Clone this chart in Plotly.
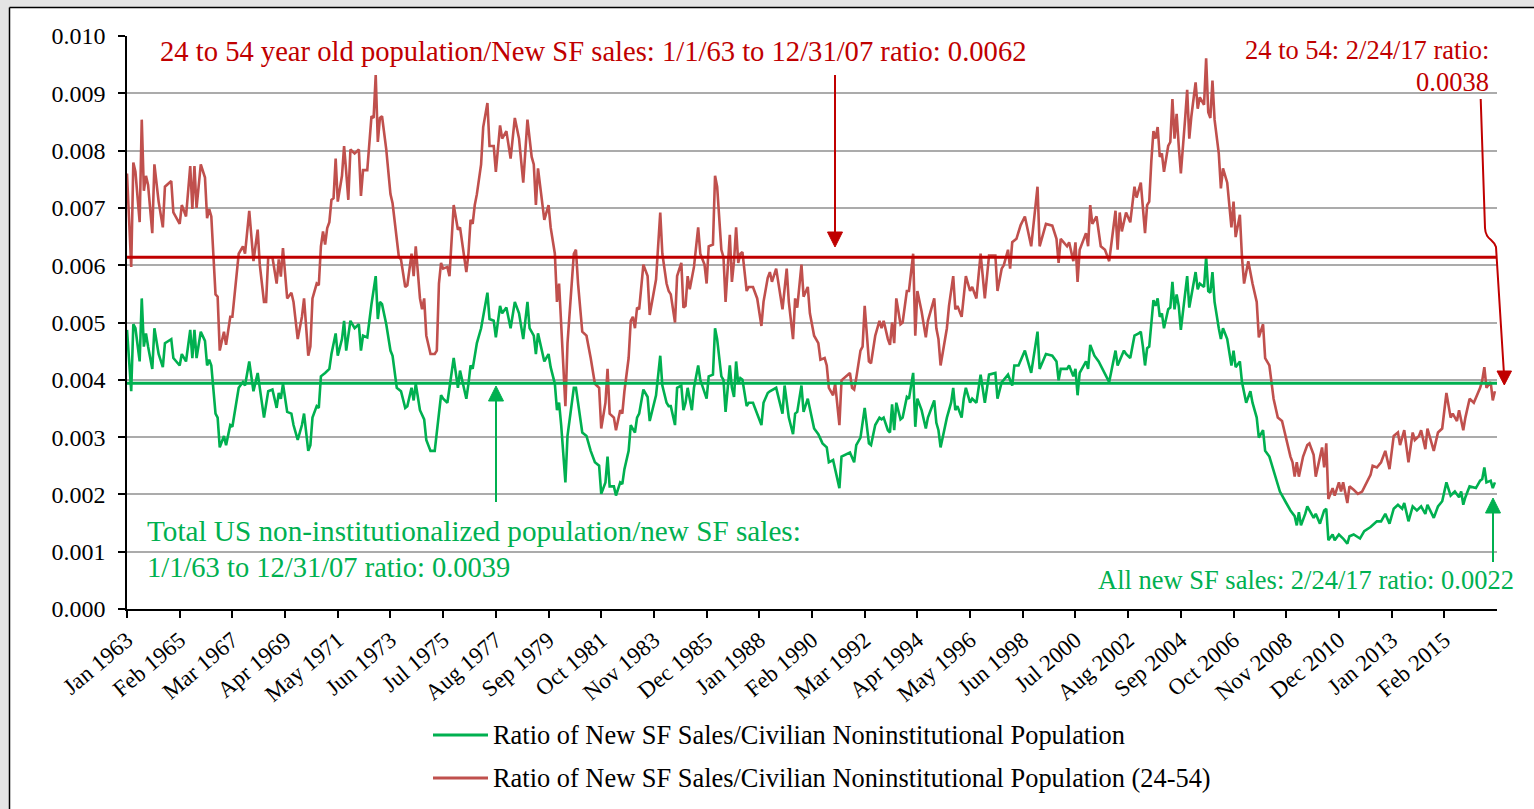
import plotly.graph_objects as go
from datetime import datetime

# ---------------- data (month index 0 = Jan 1963; values in thousandths) ----------------
red_m = [0,2,3,4,6,7,8,9,10,12,13,15,17,18,21,22,25,26,28,30,31,32,33,35,37,38,39,40,42,43,44,46,47,49,50,53,55,56,58,60,62,63,65,66,67,69,71,72,73,74,76,78,79,81,83,84,86,87,88,90,91,92,93,94,95,96,97,98,99,100,102,103,104,105,106,108,110,111,112,114,116,117,118,119,120,121,123,125,126,129,130,132,133,135,136,137,139,140,141,142,144,146,147,148,149,150,152,153,155,157,158,160,161,162,163,164,165,166,168,169,171,172,174,175,177,178,180,182,184,186,188,190,192,193,194,195,198,200,201,203,204,205,206,208,209,212,213,214,216,218,220,222,224,225,227,228,229,231,232,234,235,236,238,239,240,241,242,243,245,247,248,250,251,253,254,256,257,258,260,261,263,264,265,266,267,269,270,271,272,274,275,276,278,279,280,282,283,284,286,287,288,289,290,291,292,294,295,297,299,301,302,304,305,306,308,311,313,314,316,317,318,320,321,323,324,326,328,329,331,332,333,335,336,338,339,341,343,344,345,346,348,349,350,352,353,355,357,358,359,361,362,363,364,365,367,368,370,371,373,374,375,377,379,380,383,384,385,386,388,389,390,392,393,394,396,397,398,400,401,403,405,407,409,412,413,415,416,418,419,420,422,424,426,429,430,432,433,436,439,441,442,443,446,447,449,450,451,452,455,456,457,458,460,462,464,466,469,470,471,472,474,476,478,479,481,482,483,484,485,486,487,488,489,490,491,492,494,495,496,497,498,499,500,502,503,504,505,507,508,509,511,512,513,514,515,516,518,519,520,522,524,525,526,528,529,530,532,534,536,537,539,540,542,544,546,548,550,552,553,554,555,556,558,560,561,563,564,567,568,569,570,572,573,575,576,577,579,580,582,584,586,588,590,591,593,595,597,599,601,603,604,606,608,610,611,613,614,616,617,620,622,624,626,628,629,631,632,634,635,637,639,642,643,644,645,647,648,649]
red_v = [7.60,5.97,7.79,7.63,6.75,8.54,7.30,7.56,7.40,6.56,7.76,7.11,6.66,7.37,7.47,6.92,6.72,7.05,6.85,7.73,6.98,7.73,7.00,7.76,7.53,6.82,6.98,6.85,5.49,5.45,4.51,4.84,4.61,5.10,5.10,6.20,6.33,6.20,6.95,6.07,6.62,6.01,5.36,5.36,6.14,6.14,5.68,6.10,5.80,6.30,5.42,5.52,5.36,4.71,5.10,5.42,4.42,4.58,5.42,5.68,5.65,6.33,6.59,6.36,6.65,6.75,7.14,7.17,7.86,7.11,7.56,8.08,7.63,7.14,8.02,7.95,8.02,7.21,7.66,7.66,8.60,8.57,9.32,8.15,8.57,8.60,8.02,7.24,7.08,6.14,6.10,5.62,5.65,6.20,5.81,6.33,5.42,5.23,5.42,4.77,4.45,4.45,4.51,5.68,6.04,5.94,5.97,5.81,7.05,6.62,6.66,6.07,5.88,6.20,6.79,6.72,7.05,7.24,7.76,8.41,8.83,8.08,8.08,7.63,8.44,8.21,8.34,7.86,8.57,8.21,7.44,8.54,7.89,7.76,7.05,7.69,6.79,7.05,6.66,6.20,5.36,5.68,4.90,3.54,4.64,6.20,6.27,5.68,4.84,4.77,4.38,3.93,3.86,3.15,3.60,4.19,3.41,3.34,3.12,3.47,3.41,3.80,4.38,5.03,5.10,4.90,5.26,5.23,6.01,5.81,5.13,5.55,5.75,6.92,6.20,5.68,5.55,5.49,5.00,5.81,6.04,5.26,5.29,5.81,5.58,5.97,6.30,6.66,6.20,6.01,5.68,6.33,6.36,7.56,7.37,6.27,6.14,5.36,6.53,5.71,6.07,6.66,6.04,6.20,6.23,5.55,5.62,5.62,5.42,4.94,5.36,5.78,5.88,5.71,5.94,5.23,5.94,5.36,4.71,5.42,5.26,6.01,5.45,5.62,5.16,4.77,4.64,4.35,4.38,4.25,3.86,3.73,3.93,3.21,3.99,4.06,4.12,3.86,3.83,4.03,4.51,4.58,5.29,4.32,4.29,4.77,5.03,4.90,5.03,4.71,4.61,5.00,4.64,5.42,4.97,5.00,5.55,5.55,6.20,4.77,5.55,5.19,4.74,5.03,5.42,4.90,4.71,4.25,4.71,4.90,5.29,5.81,5.23,5.29,5.10,5.42,5.81,5.55,5.62,5.42,6.20,5.42,6.17,6.17,5.55,5.94,6.00,6.27,5.94,6.40,6.46,6.70,6.85,6.33,6.66,7.37,6.33,6.72,6.69,6.46,6.04,6.46,6.33,6.40,6.07,6.40,5.71,6.27,6.56,6.33,7.05,6.72,6.85,6.33,6.27,6.07,6.95,6.27,6.92,6.59,6.92,6.75,7.37,7.18,7.44,6.98,6.56,7.05,7.11,7.82,8.34,8.21,8.41,7.89,7.95,7.63,8.08,8.15,8.90,8.21,8.64,8.08,7.60,8.54,9.06,8.21,8.60,9.19,8.73,8.93,8.80,9.61,8.67,8.57,9.22,8.54,7.95,7.34,7.69,7.44,6.66,7.11,6.49,6.88,6.14,5.68,6.07,5.68,5.36,4.74,4.97,4.38,4.25,3.67,3.34,3.28,2.95,2.66,2.56,2.31,2.56,2.31,2.66,2.86,2.89,2.69,2.31,2.82,2.47,2.89,1.92,2.11,1.98,2.21,2.05,2.21,1.85,2.14,2.08,2.01,2.05,2.21,2.34,2.50,2.47,2.56,2.76,2.44,3.02,3.08,2.86,3.12,2.56,3.08,2.95,3.02,3.12,2.79,3.15,2.76,3.08,3.15,3.77,3.34,3.41,3.28,3.47,3.12,3.34,3.67,3.60,3.86,3.99,4.22,3.86,3.96,3.64,3.80]

green_m = [0,2,3,4,6,7,8,9,10,12,13,15,17,18,21,22,25,26,28,30,31,32,33,35,37,38,39,40,42,43,44,46,47,49,50,53,55,56,58,60,62,63,65,67,69,71,72,73,74,76,78,79,81,83,84,86,87,88,90,91,92,94,96,97,99,100,102,103,104,106,108,110,111,112,114,116,118,119,120,121,123,125,126,128,130,132,133,135,136,137,139,141,142,144,146,148,149,150,152,155,157,158,160,161,162,163,164,165,166,168,170,171,172,174,175,177,178,180,182,184,186,188,190,191,193,194,195,198,200,201,203,204,205,206,208,209,212,213,214,216,218,220,222,224,225,227,228,229,231,232,234,235,236,238,239,240,241,242,243,245,247,248,250,251,253,254,256,257,258,260,261,263,264,265,266,268,269,271,272,275,276,278,279,280,282,283,284,286,287,288,289,290,291,292,294,295,297,299,301,302,304,305,308,311,312,314,316,317,318,320,321,323,325,326,328,330,332,333,335,336,338,339,341,343,345,346,348,350,352,353,355,357,358,359,361,362,363,364,365,367,368,370,371,373,374,375,377,379,380,383,384,385,386,388,389,391,392,393,394,396,397,398,400,401,403,405,407,409,412,413,415,416,418,420,421,423,426,429,430,432,433,436,439,441,442,443,446,447,449,450,451,452,455,456,457,459,461,464,466,469,470,473,474,476,478,480,481,482,483,484,485,487,488,489,490,491,492,494,495,496,497,498,499,500,502,503,504,505,507,508,509,511,512,513,514,515,516,518,519,520,522,524,525,526,528,529,531,533,534,536,537,539,540,542,545,547,550,552,554,555,556,557,559,560,563,564,566,567,568,569,570,572,573,575,577,579,580,582,585,587,590,593,595,597,599,601,603,605,606,608,610,612,614,616,617,620,622,624,626,628,630,632,633,634,635,637,640,642,643,644,645,647,648,649]
green_v = [4.87,3.80,4.97,4.90,4.32,5.42,4.58,4.81,4.58,4.19,4.90,4.45,4.22,4.64,4.71,4.38,4.25,4.45,4.32,4.87,4.38,4.87,4.38,4.84,4.68,4.25,4.35,4.25,3.41,3.34,2.82,3.02,2.86,3.21,3.18,3.86,3.96,3.90,4.32,3.80,4.12,3.83,3.34,3.80,3.83,3.51,3.77,3.67,3.93,3.44,3.41,3.21,2.95,3.21,3.41,2.76,2.86,3.34,3.54,3.51,4.06,4.12,4.19,4.45,4.81,4.42,4.71,5.03,4.51,5.03,4.90,4.97,4.51,4.77,4.74,5.32,5.81,5.06,5.36,5.32,4.97,4.51,4.42,3.86,3.80,3.51,3.54,3.86,3.64,3.93,3.47,3.31,2.95,2.76,2.76,3.41,3.73,3.67,3.60,4.38,3.86,4.16,3.86,3.67,3.93,4.25,4.19,4.45,4.64,4.90,5.29,5.52,5.06,5.03,4.74,5.29,5.16,5.26,4.90,5.36,5.16,4.71,5.36,4.90,4.77,4.45,4.81,4.32,4.45,4.22,3.93,3.47,3.60,3.21,2.21,3.02,3.86,3.86,3.60,3.08,3.02,2.76,2.56,2.50,2.01,2.21,2.66,2.14,2.14,1.98,2.21,2.18,2.44,2.76,3.21,3.15,3.08,3.34,3.41,3.83,3.70,3.28,3.60,3.73,4.42,3.90,3.60,3.54,3.54,3.21,3.86,3.90,3.47,3.60,3.86,3.47,3.86,4.25,4.00,3.67,4.06,4.09,4.90,4.71,4.06,4.00,3.44,4.25,3.86,3.70,4.32,3.93,4.03,4.00,3.54,3.60,3.60,3.41,3.21,3.60,3.77,3.80,3.86,3.41,3.90,3.34,3.05,3.41,3.44,3.90,3.44,3.67,3.34,3.15,3.05,2.89,2.82,2.56,2.60,2.44,2.11,2.66,2.69,2.73,2.56,2.86,2.99,3.51,2.89,2.86,3.21,3.34,3.31,3.34,3.12,3.08,3.57,3.12,3.60,3.31,3.34,3.70,3.67,4.12,3.18,3.67,3.47,3.15,3.34,3.64,3.25,3.12,2.82,3.15,3.34,3.60,3.86,3.47,3.54,3.34,3.67,3.86,3.60,3.67,3.60,4.09,3.60,4.09,4.12,3.67,3.96,4.00,4.09,3.90,4.25,4.25,4.51,4.12,4.38,4.84,4.19,4.45,4.42,4.32,3.99,4.19,4.19,4.25,4.06,4.19,3.73,4.12,4.32,4.19,4.61,4.42,4.32,4.12,3.96,4.51,4.25,4.51,4.45,4.38,4.77,4.81,4.84,4.58,4.25,4.55,4.58,5.39,5.29,5.42,5.10,5.16,4.90,5.23,5.26,5.71,5.23,5.49,5.29,4.87,5.49,5.81,5.26,5.49,5.88,5.58,5.68,5.62,6.14,5.55,5.52,5.88,5.36,4.90,4.71,4.90,4.71,4.25,4.51,4.22,4.32,3.96,3.60,3.80,3.60,3.34,2.99,3.12,2.76,2.66,2.31,2.05,1.85,1.72,1.62,1.46,1.69,1.46,1.66,1.79,1.59,1.66,1.49,1.59,1.72,1.75,1.20,1.30,1.20,1.30,1.23,1.14,1.27,1.30,1.23,1.36,1.43,1.53,1.53,1.66,1.49,1.75,1.82,1.75,1.85,1.53,1.79,1.72,1.79,1.66,1.82,1.59,1.79,1.88,2.21,1.98,2.05,1.95,2.05,1.82,1.95,2.14,2.11,2.24,2.27,2.47,2.21,2.24,2.11,2.21]

red_avg = 0.00614    # 1/1/63 to 12/31/07 average (24-54)
green_avg = 0.00394  # 1/1/63 to 12/31/07 average (total)

tick_labels = ["Jan 1963","Feb 1965","Mar 1967","Apr 1969","May 1971","Jun 1973","Jul 1975",
               "Aug 1977","Sep 1979","Oct 1981","Nov 1983","Dec 1985","Jan 1988","Feb 1990",
               "Mar 1992","Apr 1994","May 1996","Jun 1998","Jul 2000","Aug 2002","Sep 2004",
               "Oct 2006","Nov 2008","Dec 2010","Jan 2013","Feb 2015"]

green_name = "Ratio of New SF Sales/Civilian Noninstitutional Population"
red_name = "Ratio of New SF Sales/Civilian Noninstitutional Population (24-54)"

# ---------------- derived ----------------
def month_index(label):
    d = datetime.strptime(label, "%b %Y")
    return (d.year - 1963) * 12 + d.month - 1

tick_vals = [month_index(t) for t in tick_labels]
SCALE = 1e-3
red_y = [v * SCALE for v in red_v]
green_y = [v * SCALE for v in green_v]

# ---------------- layout geometry (pixels) ----------------
W, H = 1534, 809
L, R, T, B = 127, 1497, 36, 609
def PX(x): return (x - L) / (R - L)
def PY(y): return (B - y) / (B - T)

FONT = "Liberation Serif"
RED_TXT = "#c00000"
GRN = "#00b050"
RED_LINE = "#c0504d"

fig = go.Figure()
fig.add_trace(go.Scatter(x=green_m, y=green_y, mode="lines", name=green_name,
                         line=dict(color=GRN, width=2.6), showlegend=False))
fig.add_trace(go.Scatter(x=red_m, y=red_y, mode="lines", name=red_name,
                         line=dict(color=RED_LINE, width=2.6), showlegend=False))
fig.add_trace(go.Scatter(x=[0, 650], y=[red_avg, red_avg], mode="lines",
                         line=dict(color="#c00000", width=3), showlegend=False, hoverinfo="skip"))
fig.add_trace(go.Scatter(x=[0, 650], y=[green_avg, green_avg], mode="lines",
                         line=dict(color=GRN, width=3), showlegend=False, hoverinfo="skip"))

shapes = []
# outer frame / background strips
shapes.append(dict(type="rect", xref="paper", yref="paper", x0=PX(0), x1=PX(9.5), y0=PY(809), y1=PY(0),
                   fillcolor="#e4e4e4", line=dict(width=0), layer="below"))
shapes.append(dict(type="rect", xref="paper", yref="paper", x0=PX(0), x1=PX(1534), y0=PY(7), y1=PY(0),
                   fillcolor="#e4e4e4", line=dict(width=0), layer="below"))
shapes.append(dict(type="line", xref="paper", yref="paper", x0=PX(9.5), x1=PX(1534), y0=PY(7.5), y1=PY(7.5),
                   line=dict(color="black", width=1.5)))
shapes.append(dict(type="line", xref="paper", yref="paper", x0=PX(9.5), x1=PX(9.5), y0=PY(7.5), y1=PY(809),
                   line=dict(color="black", width=1.5)))

def arrow(x, y_from, y_to, color, half=7.5, head=15):
    d = 1 if y_to > y_from else -1
    base = y_to - d * head
    shapes.append(dict(type="line", xref="paper", yref="paper", x0=PX(x), x1=PX(x),
                       y0=PY(y_from), y1=PY(base), line=dict(color=color, width=2)))
    path = "M {} {} L {} {} L {} {} Z".format(PX(x - half), PY(base), PX(x + half), PY(base), PX(x), PY(y_to))
    shapes.append(dict(type="path", xref="paper", yref="paper", path=path,
                       fillcolor=color, line=dict(color=color, width=1)))

arrow(835, 75, 247, "#c00000")
arrow(496, 502, 386, GRN)
arrow(1493, 562, 498, GRN)

# curved red arrow on the right
cpath = "M {} {} L {} {} C {} {} {} {} {} {} L {} {}".format(
    PX(1480.7), PY(99), PX(1485), PY(228),
    PX(1485.5), PY(240), PX(1494), PY(239), PX(1496), PY(247),
    PX(1503.8), PY(371))
shapes.append(dict(type="path", xref="paper", yref="paper", path=cpath,
                   line=dict(color="#c00000", width=2)))
shapes.append(dict(type="path", xref="paper", yref="paper",
                   path="M {} {} L {} {} L {} {} Z".format(PX(1497), PY(371), PX(1511.5), PY(371), PX(1504.3), PY(385)),
                   fillcolor="#c00000", line=dict(color="#c00000", width=1)))

# manual legend
for yy, col in ((735, GRN), (778, RED_LINE)):
    shapes.append(dict(type="line", xref="paper", yref="paper", x0=PX(433), x1=PX(488), y0=PY(yy), y1=PY(yy),
                       line=dict(color=col, width=3)))

annotations = [
    dict(text="24 to 54 year old population/New SF sales: 1/1/63 to 12/31/07 ratio: 0.0062",
         x=PX(158), y=PY(52), xanchor="left", font=dict(color=RED_TXT, size=28.6)),
    dict(text="24 to 54: 2/24/17 ratio:", x=PX(1491), y=PY(50), xanchor="right",
         font=dict(color=RED_TXT, size=26.5)),
    dict(text="0.0038", x=PX(1491), y=PY(82), xanchor="right", font=dict(color=RED_TXT, size=26.5)),
    dict(text="Total US non-institutionalized population/new SF sales:", x=PX(145), y=PY(531),
         xanchor="left", font=dict(color=GRN, size=29.2)),
    dict(text="1/1/63 to 12/31/07 ratio: 0.0039", x=PX(145), y=PY(567), xanchor="left",
         font=dict(color=GRN, size=28.5)),
    dict(text="All new SF sales: 2/24/17 ratio: 0.0022", x=PX(1516), y=PY(580), xanchor="right",
         font=dict(color=GRN, size=26.5)),
    dict(text=green_name, x=PX(491), y=PY(735), xanchor="left", font=dict(color="black", size=26.4)),
    dict(text=red_name, x=PX(491), y=PY(778), xanchor="left", font=dict(color="black", size=26.4)),
]
for a in annotations:
    a.update(xref="paper", yref="paper", yanchor="middle", showarrow=False)
    a["font"]["family"] = FONT

fig.update_layout(
    width=W, height=H,
    margin=dict(l=L, r=W - R, t=T, b=H - B, pad=0),
    paper_bgcolor="white", plot_bgcolor="white",
    font=dict(family=FONT, color="black"),
    showlegend=False,
    shapes=shapes, annotations=annotations,
    xaxis=dict(range=[0, 650], tickmode="array", tickvals=tick_vals, ticktext=tick_labels,
               tickangle=-40, showgrid=False, zeroline=False, showline=True, linecolor="black",
               linewidth=1.5, ticks="outside", ticklen=7, tickcolor="black", tickwidth=1.5,
               tickfont=dict(size=23, family=FONT, color="black")),
    yaxis=dict(range=[0, 0.010], dtick=0.001, tick0=0, tickformat=".3f", showgrid=True,
               gridcolor="#ababab", gridwidth=1.5, zeroline=False, showline=True, linecolor="black",
               linewidth=1.5, ticks="outside", ticklen=7, tickcolor="black", tickwidth=1.5,
               ticklabelstandoff=8, tickfont=dict(size=24, family=FONT, color="black")),
)

fig.write_html("out.html", config={"displayModeBar": False},
               post_script="document.body.style.margin='0';document.body.style.overflow='hidden';")
